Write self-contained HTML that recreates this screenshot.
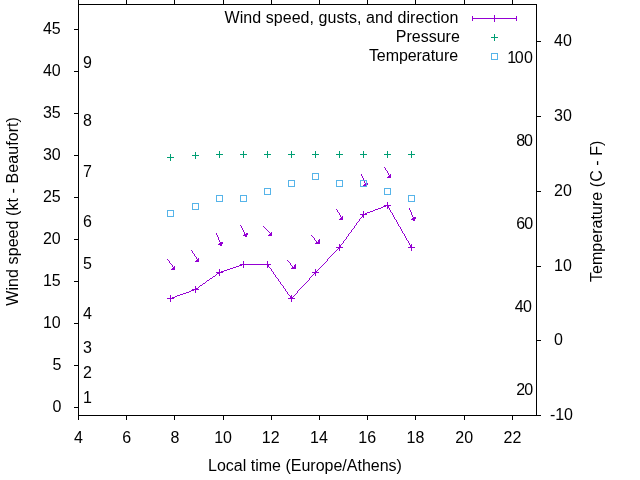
<!DOCTYPE html>
<html><head><meta charset="utf-8"><title>Wind</title>
<style>html,body{margin:0;padding:0;background:#fff;}body{width:640px;height:480px;overflow:hidden;}svg{display:block;will-change:transform;}text{font-family:"Liberation Sans",sans-serif;font-size:16px;fill:#000;}</style>
</head><body>
<svg width="640" height="480" viewBox="0 0 640 480">
<rect x="0" y="0" width="640" height="480" fill="#fff"/>
<g shape-rendering="crispEdges">
<g stroke="#000" stroke-width="1" fill="none">
<rect x="78.5" y="4.5" width="458.0" height="411.0"/>
<path d="M78.5 415.5v4.5M78.5 4.5v-4.5M126.5 415.5v4.5M126.5 4.5v-4.5M174.5 415.5v4.5M174.5 4.5v-4.5M223.5 415.5v4.5M223.5 4.5v-4.5M271.5 415.5v4.5M271.5 4.5v-4.5M319.5 415.5v4.5M319.5 4.5v-4.5M367.5 415.5v4.5M367.5 4.5v-4.5M415.5 415.5v4.5M415.5 4.5v-4.5M464.5 415.5v4.5M464.5 4.5v-4.5M512.5 415.5v4.5M512.5 4.5v-4.5M78.5 407.5h-4.5M78.5 365.5h-4.5M78.5 323.5h-4.5M78.5 281.5h-4.5M78.5 239.5h-4.5M78.5 197.5h-4.5M78.5 155.5h-4.5M78.5 113.5h-4.5M78.5 71.5h-4.5M78.5 29.5h-4.5M536.5 415.5h4.5M536.5 340.5h4.5M536.5 266.5h4.5M536.5 191.5h4.5M536.5 116.5h4.5M536.5 41.5h4.5"/>
</g>
<path d="M472 18.5H517M472.5 16v5M516.5 16v5M494.5 15v7" stroke="#9400d3" stroke-width="1" fill="none"/>
<path d="M491 37.5h7M494.5 34v7" stroke="#009e73" stroke-width="1" fill="none"/>
<rect x="491.5" y="53.5" width="6" height="6" stroke="#56b4e9" stroke-width="1" fill="none"/>
<path d="M387 202h1v1h-1zM387 203h1v1h-1zM387 204h1v1h-1zM384 205h7v1h-7zM383 206h3v1h-3zM387 206h2v1h-2zM381 207h2v1h-2zM387 207h2v1h-2zM378 208h3v1h-3zM387 208h1v1h-1zM389 208h1v1h-1zM375 209h3v1h-3zM389 209h1v1h-1zM373 210h2v1h-2zM390 210h1v1h-1zM363 211h1v1h-1zM370 211h3v1h-3zM390 211h1v1h-1zM363 212h1v1h-1zM367 212h3v1h-3zM391 212h1v1h-1zM363 213h1v1h-1zM365 213h2v1h-2zM392 213h1v1h-1zM360 214h7v1h-7zM392 214h1v1h-1zM362 215h2v1h-2zM393 215h1v1h-1zM362 216h2v1h-2zM393 216h1v1h-1zM361 217h1v1h-1zM363 217h1v1h-1zM394 217h1v1h-1zM360 218h1v1h-1zM394 218h1v1h-1zM359 219h1v1h-1zM395 219h1v1h-1zM359 220h1v1h-1zM396 220h1v1h-1zM358 221h1v1h-1zM396 221h1v1h-1zM357 222h1v1h-1zM397 222h1v1h-1zM356 223h1v1h-1zM397 223h1v1h-1zM356 224h1v1h-1zM398 224h1v1h-1zM355 225h1v1h-1zM398 225h1v1h-1zM354 226h1v1h-1zM399 226h1v1h-1zM354 227h1v1h-1zM400 227h1v1h-1zM353 228h1v1h-1zM400 228h1v1h-1zM352 229h1v1h-1zM401 229h1v1h-1zM351 230h1v1h-1zM401 230h1v1h-1zM351 231h1v1h-1zM402 231h1v1h-1zM350 232h1v1h-1zM402 232h1v1h-1zM349 233h1v1h-1zM403 233h1v1h-1zM348 234h1v1h-1zM404 234h1v1h-1zM348 235h1v1h-1zM404 235h1v1h-1zM347 236h1v1h-1zM405 236h1v1h-1zM346 237h1v1h-1zM405 237h1v1h-1zM346 238h1v1h-1zM406 238h1v1h-1zM345 239h1v1h-1zM406 239h1v1h-1zM344 240h1v1h-1zM407 240h1v1h-1zM343 241h1v1h-1zM408 241h1v1h-1zM343 242h1v1h-1zM408 242h1v1h-1zM342 243h1v1h-1zM409 243h1v1h-1zM339 244h1v1h-1zM341 244h1v1h-1zM409 244h1v1h-1zM411 244h1v1h-1zM339 245h2v1h-2zM410 245h2v1h-2zM339 246h2v1h-2zM410 246h2v1h-2zM336 247h7v1h-7zM408 247h7v1h-7zM338 248h2v1h-2zM411 248h1v1h-1zM337 249h1v1h-1zM339 249h1v1h-1zM411 249h1v1h-1zM336 250h1v1h-1zM339 250h1v1h-1zM411 250h1v1h-1zM335 251h1v1h-1zM334 252h1v1h-1zM333 253h1v1h-1zM332 254h1v1h-1zM331 255h1v1h-1zM330 256h1v1h-1zM329 257h1v1h-1zM328 258h1v1h-1zM327 259h1v1h-1zM327 260h1v1h-1zM243 261h1v1h-1zM267 261h1v1h-1zM326 261h1v1h-1zM243 262h1v1h-1zM267 262h1v1h-1zM325 262h1v1h-1zM243 263h1v1h-1zM267 263h1v1h-1zM324 263h1v1h-1zM240 264h31v1h-31zM323 264h1v1h-1zM239 265h3v1h-3zM243 265h1v1h-1zM267 265h2v1h-2zM322 265h1v1h-1zM236 266h3v1h-3zM243 266h1v1h-1zM267 266h2v1h-2zM321 266h1v1h-1zM233 267h3v1h-3zM243 267h1v1h-1zM267 267h1v1h-1zM269 267h1v1h-1zM320 267h1v1h-1zM230 268h3v1h-3zM270 268h1v1h-1zM319 268h1v1h-1zM219 269h1v1h-1zM227 269h3v1h-3zM271 269h1v1h-1zM315 269h1v1h-1zM318 269h1v1h-1zM219 270h1v1h-1zM224 270h3v1h-3zM271 270h1v1h-1zM315 270h1v1h-1zM317 270h1v1h-1zM219 271h1v1h-1zM221 271h3v1h-3zM272 271h1v1h-1zM315 271h2v1h-2zM216 272h7v1h-7zM273 272h1v1h-1zM312 272h7v1h-7zM217 273h3v1h-3zM273 273h1v1h-1zM314 273h2v1h-2zM216 274h1v1h-1zM219 274h1v1h-1zM274 274h1v1h-1zM313 274h1v1h-1zM315 274h1v1h-1zM215 275h1v1h-1zM219 275h1v1h-1zM275 275h1v1h-1zM312 275h1v1h-1zM315 275h1v1h-1zM213 276h2v1h-2zM275 276h1v1h-1zM311 276h1v1h-1zM212 277h1v1h-1zM276 277h1v1h-1zM310 277h1v1h-1zM210 278h2v1h-2zM277 278h1v1h-1zM309 278h1v1h-1zM209 279h1v1h-1zM278 279h1v1h-1zM309 279h1v1h-1zM207 280h2v1h-2zM278 280h1v1h-1zM308 280h1v1h-1zM206 281h1v1h-1zM279 281h1v1h-1zM307 281h1v1h-1zM205 282h1v1h-1zM280 282h1v1h-1zM306 282h1v1h-1zM203 283h2v1h-2zM280 283h1v1h-1zM305 283h1v1h-1zM202 284h1v1h-1zM281 284h1v1h-1zM304 284h1v1h-1zM200 285h2v1h-2zM282 285h1v1h-1zM303 285h1v1h-1zM195 286h1v1h-1zM199 286h1v1h-1zM283 286h1v1h-1zM302 286h1v1h-1zM195 287h1v1h-1zM198 287h1v1h-1zM283 287h1v1h-1zM301 287h1v1h-1zM195 288h3v1h-3zM284 288h1v1h-1zM300 288h1v1h-1zM192 289h7v1h-7zM285 289h1v1h-1zM299 289h1v1h-1zM191 290h3v1h-3zM195 290h1v1h-1zM285 290h1v1h-1zM298 290h1v1h-1zM189 291h2v1h-2zM195 291h1v1h-1zM286 291h1v1h-1zM297 291h1v1h-1zM186 292h3v1h-3zM195 292h1v1h-1zM287 292h1v1h-1zM297 292h1v1h-1zM183 293h3v1h-3zM287 293h1v1h-1zM296 293h1v1h-1zM180 294h3v1h-3zM288 294h1v1h-1zM295 294h1v1h-1zM170 295h1v1h-1zM177 295h3v1h-3zM289 295h1v1h-1zM291 295h1v1h-1zM294 295h1v1h-1zM170 296h1v1h-1zM175 296h2v1h-2zM290 296h2v1h-2zM293 296h1v1h-1zM170 297h1v1h-1zM172 297h3v1h-3zM290 297h3v1h-3zM167 298h7v1h-7zM288 298h7v1h-7zM170 299h1v1h-1zM291 299h1v1h-1zM170 300h1v1h-1zM291 300h1v1h-1zM170 301h1v1h-1zM291 301h1v1h-1z" fill="#9400d3" stroke="none"/>
<path d="M384 167h1v1h-1zM385 168h1v1h-1zM385 169h1v1h-1zM386 170h1v1h-1zM387 171h1v1h-1zM387 172h1v1h-1zM388 173h1v1h-1zM361 174h1v1h-1zM388 174h1v1h-1zM390 174h1v1h-1zM361 175h1v1h-1zM389 175h2v1h-2zM362 176h1v1h-1zM388 176h3v1h-3zM362 177h1v1h-1zM387 177h4v1h-4zM363 178h1v1h-1zM363 179h1v1h-1zM363 180h1v1h-1zM364 181h1v1h-1zM364 182h1v1h-1zM365 183h3v1h-3zM364 184h4v1h-4zM363 185h4v1h-4zM365 186h2v1h-2zM409 208h1v1h-1zM336 209h1v1h-1zM409 209h1v1h-1zM337 210h1v1h-1zM410 210h1v1h-1zM337 211h1v1h-1zM410 211h1v1h-1zM338 212h1v1h-1zM411 212h1v1h-1zM339 213h1v1h-1zM411 213h1v1h-1zM339 214h1v1h-1zM411 214h1v1h-1zM340 215h1v1h-1zM412 215h1v1h-1zM340 216h1v1h-1zM342 216h1v1h-1zM412 216h1v1h-1zM341 217h2v1h-2zM413 217h3v1h-3zM340 218h3v1h-3zM412 218h4v1h-4zM339 219h4v1h-4zM411 219h4v1h-4zM413 220h2v1h-2zM240 225h1v1h-1zM241 226h1v1h-1zM263 226h1v1h-1zM241 227h1v1h-1zM264 227h1v1h-1zM242 228h1v1h-1zM265 228h1v1h-1zM242 229h1v1h-1zM266 229h1v1h-1zM243 230h1v1h-1zM267 230h1v1h-1zM243 231h1v1h-1zM268 231h1v1h-1zM244 232h1v1h-1zM269 232h1v1h-1zM271 232h1v1h-1zM216 233h1v1h-1zM244 233h1v1h-1zM246 233h2v1h-2zM270 233h2v1h-2zM216 234h1v1h-1zM244 234h4v1h-4zM269 234h3v1h-3zM217 235h1v1h-1zM243 235h4v1h-4zM268 235h4v1h-4zM311 235h1v1h-1zM217 236h1v1h-1zM245 236h2v1h-2zM312 236h1v1h-1zM218 237h1v1h-1zM313 237h1v1h-1zM218 238h1v1h-1zM314 238h1v1h-1zM218 239h1v1h-1zM314 239h1v1h-1zM319 239h1v1h-1zM219 240h1v1h-1zM315 240h1v1h-1zM318 240h2v1h-2zM219 241h1v1h-1zM316 241h1v1h-1zM318 241h2v1h-2zM220 242h3v1h-3zM316 242h4v1h-4zM219 243h4v1h-4zM315 243h5v1h-5zM218 244h4v1h-4zM220 245h2v1h-2zM191 250h1v1h-1zM192 251h1v1h-1zM192 252h1v1h-1zM193 253h1v1h-1zM194 254h1v1h-1zM194 255h1v1h-1zM195 256h1v1h-1zM196 257h1v1h-1zM196 258h1v1h-1zM198 258h1v1h-1zM167 259h1v1h-1zM197 259h2v1h-2zM168 260h1v1h-1zM196 260h3v1h-3zM287 260h1v1h-1zM169 261h1v1h-1zM195 261h4v1h-4zM288 261h1v1h-1zM169 262h1v1h-1zM289 262h1v1h-1zM170 263h1v1h-1zM290 263h1v1h-1zM171 264h1v1h-1zM290 264h1v1h-1zM295 264h1v1h-1zM172 265h1v1h-1zM291 265h1v1h-1zM294 265h2v1h-2zM172 266h1v1h-1zM174 266h1v1h-1zM292 266h1v1h-1zM294 266h2v1h-2zM173 267h2v1h-2zM292 267h4v1h-4zM172 268h3v1h-3zM291 268h5v1h-5zM171 269h4v1h-4z" fill="#9400d3" stroke="none"/>
<path d="M167 157.5h7M170.5 154v7" stroke="#009e73" stroke-width="1" fill="none"/>
<path d="M192 155.5h7M195.5 152v7" stroke="#009e73" stroke-width="1" fill="none"/>
<path d="M216 154.5h7M219.5 151v7" stroke="#009e73" stroke-width="1" fill="none"/>
<path d="M240 154.5h7M243.5 151v7" stroke="#009e73" stroke-width="1" fill="none"/>
<path d="M264 154.5h7M267.5 151v7" stroke="#009e73" stroke-width="1" fill="none"/>
<path d="M288 154.5h7M291.5 151v7" stroke="#009e73" stroke-width="1" fill="none"/>
<path d="M312 154.5h7M315.5 151v7" stroke="#009e73" stroke-width="1" fill="none"/>
<path d="M336 154.5h7M339.5 151v7" stroke="#009e73" stroke-width="1" fill="none"/>
<path d="M360 154.5h7M363.5 151v7" stroke="#009e73" stroke-width="1" fill="none"/>
<path d="M384 154.5h7M387.5 151v7" stroke="#009e73" stroke-width="1" fill="none"/>
<path d="M408 154.5h7M411.5 151v7" stroke="#009e73" stroke-width="1" fill="none"/>
<rect x="167.5" y="210.5" width="6" height="6" stroke="#56b4e9" stroke-width="1" fill="none"/>
<rect x="192.5" y="203.5" width="6" height="6" stroke="#56b4e9" stroke-width="1" fill="none"/>
<rect x="216.5" y="195.5" width="6" height="6" stroke="#56b4e9" stroke-width="1" fill="none"/>
<rect x="240.5" y="195.5" width="6" height="6" stroke="#56b4e9" stroke-width="1" fill="none"/>
<rect x="264.5" y="188.5" width="6" height="6" stroke="#56b4e9" stroke-width="1" fill="none"/>
<rect x="288.5" y="180.5" width="6" height="6" stroke="#56b4e9" stroke-width="1" fill="none"/>
<rect x="312.5" y="173.5" width="6" height="6" stroke="#56b4e9" stroke-width="1" fill="none"/>
<rect x="336.5" y="180.5" width="6" height="6" stroke="#56b4e9" stroke-width="1" fill="none"/>
<rect x="360.5" y="180.5" width="6" height="6" stroke="#56b4e9" stroke-width="1" fill="none"/>
<rect x="384.5" y="188.5" width="6" height="6" stroke="#56b4e9" stroke-width="1" fill="none"/>
<rect x="408.5" y="195.5" width="6" height="6" stroke="#56b4e9" stroke-width="1" fill="none"/>
</g>
<g>
<text x="78.5" y="443" text-anchor="middle">4</text>
<text x="126.7" y="443" text-anchor="middle">6</text>
<text x="174.9" y="443" text-anchor="middle">8</text>
<text x="223.1" y="443" text-anchor="middle">10</text>
<text x="270.7" y="443" text-anchor="middle">12</text>
<text x="319.0" y="443" text-anchor="middle">14</text>
<text x="367.2" y="443" text-anchor="middle">16</text>
<text x="415.4" y="443" text-anchor="middle">18</text>
<text x="464.2" y="443" text-anchor="middle">20</text>
<text x="512.4" y="443" text-anchor="middle">22</text>
<text x="61.3" y="411.6" text-anchor="end">0</text>
<text x="61.3" y="369.7" text-anchor="end">5</text>
<text x="60.7" y="327.7" text-anchor="end">10</text>
<text x="60.7" y="285.8" text-anchor="end">15</text>
<text x="60.7" y="243.9" text-anchor="end">20</text>
<text x="60.7" y="201.9" text-anchor="end">25</text>
<text x="60.7" y="160.0" text-anchor="end">30</text>
<text x="60.7" y="118.0" text-anchor="end">35</text>
<text x="60.7" y="76.1" text-anchor="end">40</text>
<text x="60.7" y="34.2" text-anchor="end">45</text>
<text x="549.9" y="420.0" text-anchor="start">-10</text>
<text x="554" y="345.3" text-anchor="start">0</text>
<text x="554" y="270.5" text-anchor="start">10</text>
<text x="554" y="195.8" text-anchor="start">20</text>
<text x="554" y="121.1" text-anchor="start">30</text>
<text x="554" y="46.4" text-anchor="start">40</text>
</g>
<text x="83" y="403.2">1</text>
<text x="83" y="378.1">2</text>
<text x="83" y="352.9">3</text>
<text x="83" y="319.3">4</text>
<text x="83" y="269.0">5</text>
<text x="83" y="227.1">6</text>
<text x="83" y="176.8">7</text>
<text x="83" y="126.4">8</text>
<text x="83" y="67.7">9</text>
<text x="516.2 524.2" y="395.1">20</text>
<text x="514.7 523.1" y="312.1">40</text>
<text x="516.2 524.3" y="229.0">60</text>
<text x="516.2 524.1" y="146.0">80</text>
<text x="507.2 514.8 524.0" y="63.0">100</text>
<text x="305" y="471" text-anchor="middle">Local time (Europe/Athens)</text>
<text transform="translate(18.1,211.4) rotate(-90)" text-anchor="middle" textLength="188.6" lengthAdjust="spacing">Wind speed (kt - Beaufort)</text>
<text transform="translate(601.8,211.4) rotate(-90)" text-anchor="middle" textLength="141.4" lengthAdjust="spacing">Temperature (C - F)</text>
<text x="458.4" y="23" text-anchor="end" textLength="233.9" lengthAdjust="spacing">Wind speed, gusts, and direction</text>
<text x="459.85" y="42" text-anchor="end" textLength="64.1" lengthAdjust="spacing">Pressure</text>
<text x="458.1" y="61" text-anchor="end" textLength="89.2" lengthAdjust="spacing">Temperature</text>
</svg>
</body></html>
